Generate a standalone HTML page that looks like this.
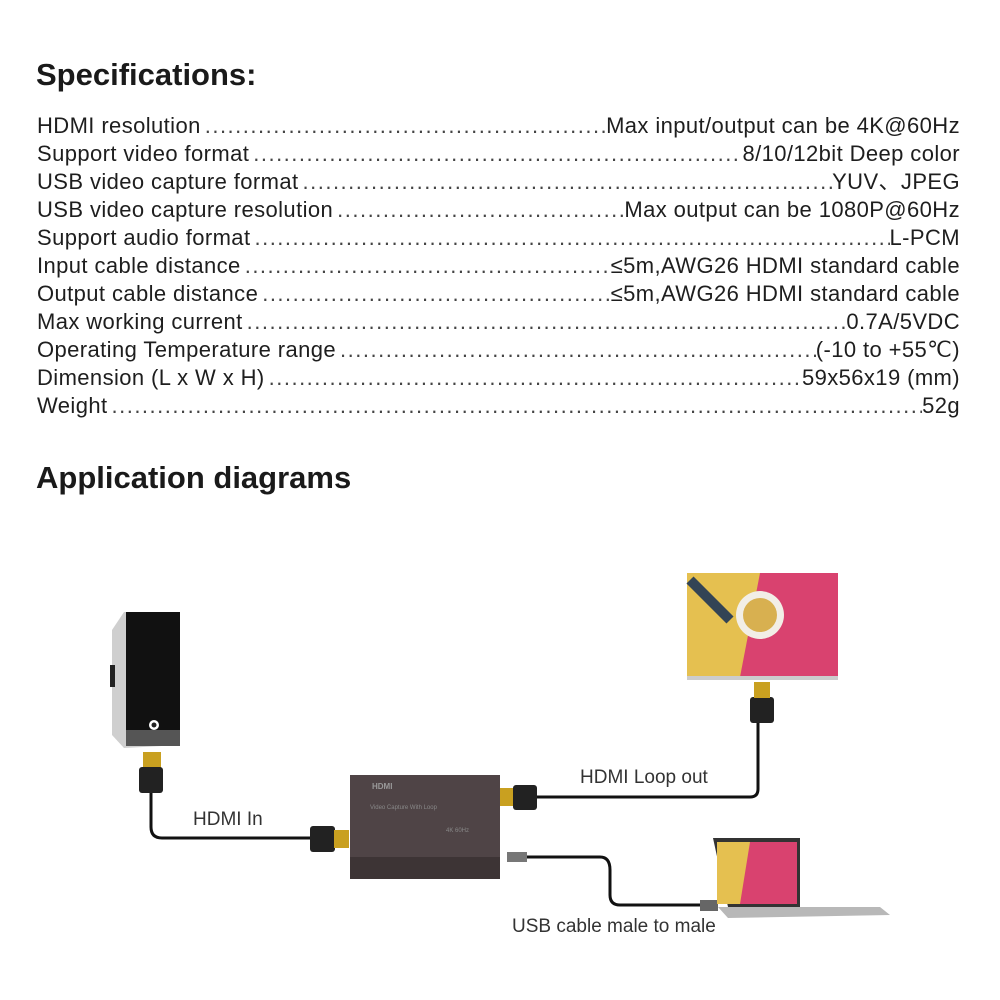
<!DOCTYPE html>
<html><head><meta charset="utf-8"><style>
body{margin:0;width:1000px;height:1000px;background:#fff;position:relative;overflow:hidden;font-family:"Liberation Sans",Arial,sans-serif;color:#222}
h1{position:absolute;margin:0;font-size:31px;font-weight:bold;left:36px;color:#1a1a1a}
.row{position:absolute;left:37px;width:923px;height:28px;display:flex;font-size:22px;letter-spacing:0.4px;line-height:28px;white-space:nowrap;color:#1e1e1e}
.row .d{flex:1;overflow:hidden;padding:0 4px;letter-spacing:1.5px;color:#444}
.lbl{position:absolute;font-size:19px;color:#333}
</style></head><body>
<h1 style="top:57px">Specifications:</h1>
<div class="row" style="top:112px"><span>HDMI resolution</span><span class="d">..............................................................................................................................................................</span><span>Max input/output can be 4K@60Hz</span></div>
<div class="row" style="top:140px"><span>Support video format</span><span class="d">..............................................................................................................................................................</span><span>8/10/12bit Deep color</span></div>
<div class="row" style="top:168px"><span>USB video capture format</span><span class="d">..............................................................................................................................................................</span><span>YUV、JPEG</span></div>
<div class="row" style="top:196px"><span>USB video capture resolution</span><span class="d">..............................................................................................................................................................</span><span>Max output can be 1080P@60Hz</span></div>
<div class="row" style="top:224px"><span>Support audio format</span><span class="d">..............................................................................................................................................................</span><span>L-PCM</span></div>
<div class="row" style="top:252px"><span>Input cable distance</span><span class="d">..............................................................................................................................................................</span><span>≤5m,AWG26 HDMI standard cable</span></div>
<div class="row" style="top:280px"><span>Output cable distance</span><span class="d">..............................................................................................................................................................</span><span>≤5m,AWG26 HDMI standard cable</span></div>
<div class="row" style="top:308px"><span>Max working current</span><span class="d">..............................................................................................................................................................</span><span>0.7A/5VDC</span></div>
<div class="row" style="top:336px"><span>Operating Temperature range</span><span class="d">..............................................................................................................................................................</span><span>(-10 to +55℃)</span></div>
<div class="row" style="top:364px"><span>Dimension (L x W x H)</span><span class="d">..............................................................................................................................................................</span><span>59x56x19 (mm)</span></div>
<div class="row" style="top:392px"><span>Weight</span><span class="d">..............................................................................................................................................................</span><span>52g</span></div>
<h1 style="top:460px">Application diagrams</h1>

<svg width="1000" height="1000" style="position:absolute;left:0;top:0">
<polygon points="112,630 124,612 180,612 180,745 124,748 112,735" fill="#cfcfcf"/>
<rect x="126" y="612" width="54" height="118" fill="#111"/>
<rect x="126" y="730" width="54" height="16" fill="#555"/>
<circle cx="154" cy="725" r="5" fill="#fff"/><circle cx="154" cy="725" r="2.5" fill="#222"/>
<rect x="110" y="665" width="5" height="22" fill="#222"/>
<rect x="143" y="752" width="18" height="16" fill="#c9a020"/>
<rect x="139" y="767" width="24" height="26" rx="3" fill="#222"/>
<path d="M151,793 V827 Q151,838 162,838 H312" stroke="#111" stroke-width="3" fill="none"/>
<rect x="310" y="826" width="25" height="26" rx="3" fill="#222"/>
<rect x="334" y="830" width="15" height="18" fill="#c9a020"/>
<rect x="350" y="775" width="150" height="104" fill="#4f4446"/>
<rect x="350" y="857" width="150" height="22" fill="#3d3435"/>
<text x="372" y="789" font-size="8" fill="#999" font-weight="bold">HDMI</text>
<text x="370" y="809" font-size="6" fill="#888">Video Capture With Loop</text>
<text x="446" y="832" font-size="6" fill="#888">4K 60Hz</text>
<rect x="500" y="788" width="14" height="18" fill="#c9a020"/>
<rect x="513" y="785" width="24" height="25" rx="3" fill="#222"/>
<path d="M537,797 H750 Q758,797 758,789 V720" stroke="#111" stroke-width="3" fill="none"/>
<rect x="750" y="697" width="24" height="26" rx="3" fill="#222"/>
<rect x="754" y="682" width="16" height="16" fill="#c9a020"/>
<rect x="687" y="573" width="151" height="104" fill="#d9426f"/>
<polygon points="687,573 760,573 740,677 687,677" fill="#e5c050"/>
<circle cx="760" cy="615" r="24" fill="#f2eee6"/><circle cx="760" cy="615" r="17" fill="#d8b050"/>
<path d="M690,580 L730,620" stroke="#345" stroke-width="10"/>
<rect x="687" y="676" width="151" height="4" fill="#ccc"/>
<rect x="507" y="852" width="20" height="10" fill="#777"/>
<path d="M527,857 H600 Q610,857 610,870 V895 Q610,905 620,905 H700" stroke="#111" stroke-width="3" fill="none"/>
<rect x="700" y="900" width="18" height="11" fill="#666"/>
<polygon points="713,838 800,838 800,907 728,907" fill="#333"/>
<rect x="717" y="842" width="80" height="62" fill="#d9426f"/>
<polygon points="717,842 750,842 740,904 717,904" fill="#e5c050"/>
<polygon points="718,907 880,907 890,915 728,918" fill="#b8b8b8"/>
</svg>
<div class="lbl" style="left:193px;top:809px">HDMI In</div>
<div class="lbl" style="left:580px;top:767px">HDMI Loop out</div>
<div class="lbl" style="left:512px;top:916px">USB cable male to male</div>
</body></html>
